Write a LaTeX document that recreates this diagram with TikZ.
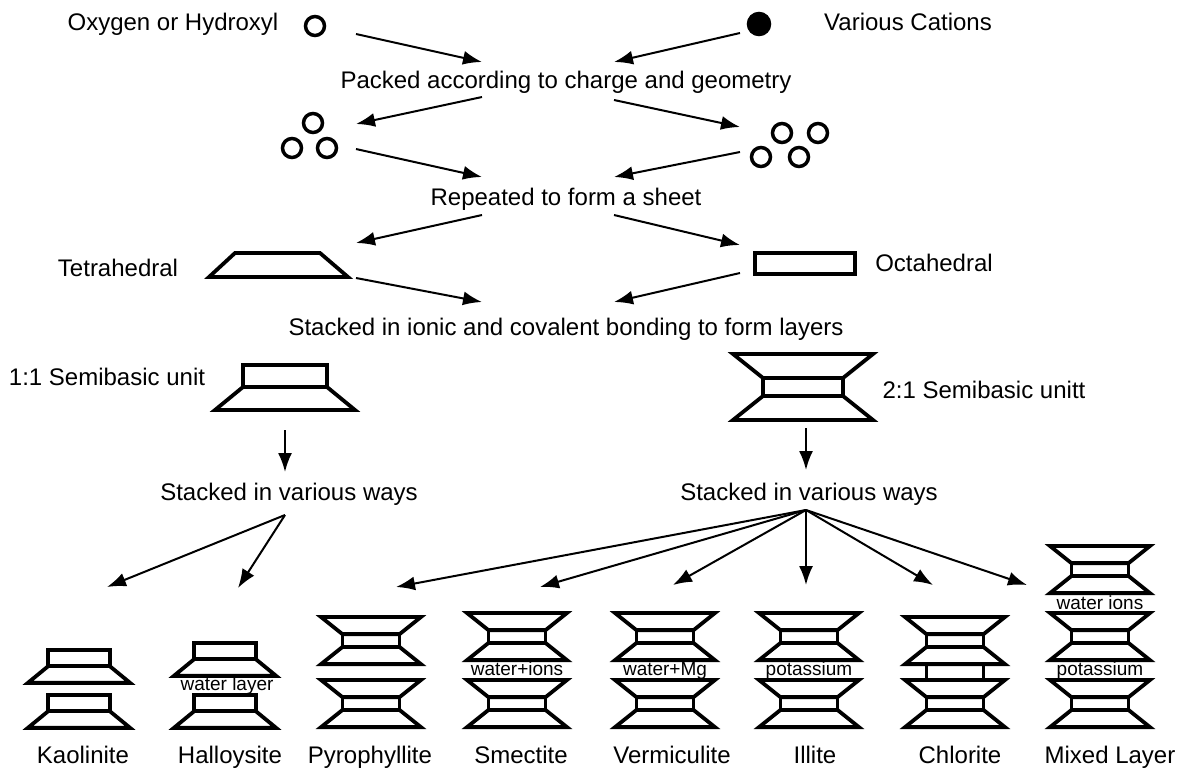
\documentclass[tikz,border=0pt]{standalone}
\usepackage{fontspec}
\setmainfont{Liberation Sans}
\usetikzlibrary{arrows.meta}

\tikzset{
    unitline/.style={line width=3.8pt, line join=miter},
    twoone/.pic={
        \draw[unitline] (-70,0) -- (70,0) -- (40,24) -- (-40,24) -- cycle;
        \draw[unitline] (-40,24) rectangle (40,42);
        \draw[unitline] (-40,42) -- (40,42) -- (70,66) -- (-70,66) -- cycle;
    },
    oneone/.pic={
        \draw[unitline] (-42,0) rectangle (42,22);
        \draw[unitline] (-42,22) -- (42,22) -- (70,45) -- (-70,45) -- cycle;
    }
}

\begin{document}
\begin{tikzpicture}[x=1pt, y=-1pt,
        font=\fontsize{24}{28}\selectfont,
        every node/.style={anchor=base},
        arr/.style={-{Latex[length=19pt,width=14pt]}, line width=2pt},
        ball/.style={circle, draw, line width=3.5pt, minimum size=19pt, inner sep=0pt, anchor=center},
        gaplabel/.style={font=\fontsize{19}{22}\selectfont, inner sep=0pt},
        mineral/.style={inner sep=0pt}]
    \useasboundingbox (0,0) rectangle (1183,769);

    \node (oxytext) at (173,30) {Oxygen or Hydroxyl};
    \node[ball] (oxy) at (315,26) {};
    \node[ball, fill, minimum size=21pt] (cation) at (759,24) {};
    \node (cationtext) at (908,30) {Various Cations};

    \node (packed) at (566,88) {Packed according to charge and geometry};
    \node[ball] (tri1) at (313,123) {};
    \node[ball] (tri2) at (292,148) {};
    \node[ball] (tri3) at (327,148) {};
    \node[ball] (quad1) at (782,133) {};
    \node[ball] (quad2) at (818,133) {};
    \node[ball] (quad3) at (761,157) {};
    \node[ball] (quad4) at (799,157) {};

    \node (repeated) at (566,205) {Repeated to form a sheet};
    \node (tetratext) at (118,276) {Tetrahedral};
    \draw[unitline] (235,253) -- (320,253) -- (348,277) -- (209,277) -- cycle;
    \draw[unitline] (755,253) rectangle (855,274);
    \node (octatext) at (934,271) {Octahedral};

    \node (layers) at (566,335) {Stacked in ionic and covalent bonding to form layers};
    \node (semione) at (107,385) {1:1 Semibasic unit};
    \pic (unitone) at (285,365) {oneone};
    \pic (unittwo) at (803,354) {twoone};
    \node (semitwo) at (984,398) {2:1 Semibasic unitt};

    \node (waysone) at (289,500) {Stacked in various ways};
    \node (waystwo) at (809,500) {Stacked in various ways};

    % arrows
    \coordinate (p1) at (356,34);  \coordinate (q1) at (482,62);
    \coordinate (p2) at (740,33);  \coordinate (q2) at (614,62);
    \coordinate (p3) at (482,97);  \coordinate (q3) at (356,124);
    \coordinate (p4) at (614,100); \coordinate (q4) at (740,127);
    \coordinate (p5) at (740,152); \coordinate (q5) at (614,177);
    \coordinate (p6) at (356,149); \coordinate (q6) at (482,177);
    \coordinate (p7) at (482,215); \coordinate (q7) at (356,243);
    \coordinate (p8) at (614,215); \coordinate (q8) at (740,245);
    \coordinate (p9) at (356,278); \coordinate (q9) at (482,302);
    \coordinate (p10) at (740,273); \coordinate (q10) at (614,302);
    \coordinate (p11) at (285,430); \coordinate (q11) at (285,472);
    \coordinate (p12) at (806,428); \coordinate (q12) at (806,470);
    \foreach \i in {1,...,12}
        \draw[arr] (p\i) -- (q\i);

    \coordinate (apexone) at (285,515);
    \coordinate (apextwo) at (806,510);
    \coordinate (tokaol) at (107,587);
    \coordinate (tohall) at (238,588);
    \coordinate (topyro) at (396,587);
    \coordinate (tosmec) at (540,587);
    \coordinate (toverm) at (673,585);
    \coordinate (toilli) at (806,585);
    \coordinate (tochlo) at (933,585);
    \coordinate (tomixd) at (1027,585);
    \foreach \t in {kaol,hall}
        \draw[arr] (apexone) -- (to\t);
    \foreach \t in {pyro,smec,verm,illi,chlo,mixd}
        \draw[arr] (apextwo) -- (to\t);

    % bottom row
    \pic[scale=0.73] (kaolA) at (79,650) {oneone};
    \pic[scale=0.73] (kaolB) at (79,695) {oneone};
    \pic[scale=0.73] (hallA) at (225,643) {oneone};
    \pic[scale=0.73] (hallB) at (225,695) {oneone};
    \node[gaplabel] (hallgap) at (227,690) {water layer};

    \pic[scale=0.714] (pyroA) at (371,617) {twoone};
    \pic[scale=0.714] (pyroB) at (371,680) {twoone};

    \pic[scale=0.714] (smecA) at (517,613) {twoone};
    \pic[scale=0.714] (smecB) at (517,680) {twoone};
    \node[gaplabel] (smecgap) at (517,675) {water+ions};

    \pic[scale=0.714] (vermA) at (665,613) {twoone};
    \pic[scale=0.714] (vermB) at (665,680) {twoone};
    \node[gaplabel] (vermgap) at (665,675) {water+Mg};

    \pic[scale=0.714] (illiA) at (809,613) {twoone};
    \pic[scale=0.714] (illiB) at (809,680) {twoone};
    \node[gaplabel] (illigap) at (809,675) {potassium};

    \pic[scale=0.714] (chloA) at (955,617) {twoone};
    \draw[unitline] (926.5,664) rectangle (983.5,680);
    \pic[scale=0.714] (chloB) at (955,680) {twoone};

    \pic[scale=0.714] (mixdA) at (1100,546) {twoone};
    \pic[scale=0.714] (mixdB) at (1100,613) {twoone};
    \pic[scale=0.714] (mixdC) at (1100,680) {twoone};
    \node[gaplabel] (mixdgap1) at (1100,609) {water ions};
    \node[gaplabel] (mixdgap2) at (1100,675) {potassium};

    \node[mineral] (kaol) at (83,763) {Kaolinite};
    \node[mineral] (hall) at (230,763) {Halloysite};
    \node[mineral] (pyro) at (370,763) {Pyrophyllite};
    \node[mineral] (smec) at (521,763) {Smectite};
    \node[mineral] (verm) at (672,763) {Vermiculite};
    \node[mineral] (illi) at (815,763) {Illite};
    \node[mineral] (chlo) at (960,763) {Chlorite};
    \node[mineral] (mixd) at (1110,763) {Mixed Layer};
\end{tikzpicture}
\end{document}
